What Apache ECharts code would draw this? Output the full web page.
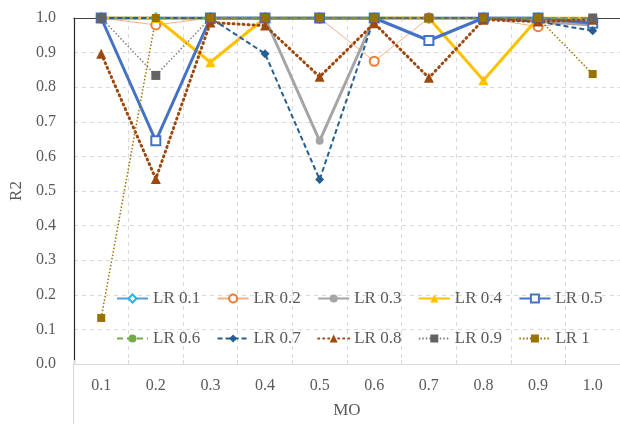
<!DOCTYPE html>
<html><head><meta charset="utf-8">
<script src="https://cdn.jsdelivr.net/npm/echarts@6/dist/echarts.min.js"></script>
<style>html,body{margin:0;padding:0;background:#fff}#c{width:620px;height:424px}</style>
</head><body><div id="c"></div>
<script>
const categories = ['0.1','0.2','0.3','0.4','0.5','0.6','0.7','0.8','0.9','1.0'];
const yTicks = [0,0.1,0.2,0.3,0.4,0.5,0.6,0.7,0.8,0.9,1.0];
const seriesNames = ['LR 0.1','LR 0.2','LR 0.3','LR 0.4','LR 0.5','LR 0.6','LR 0.7','LR 0.8','LR 0.9','LR 1'];
const lr01 = [1.0, 1.0, 1.0, 1.0, 1.0, 1.0, 1.0, 1.0, 1.0, 0.99];
const lr02 = [1.0, 0.98, 1.0, 1.0, 1.0, 0.875, 1.0, 1.0, 0.975, 0.995];
const lr03 = [1.0, 1.0, 1.0, 1.0, 0.645, 1.0, 1.0, 1.0, 0.99, 0.98];
const lr04 = [1.0, 1.0, 0.872, 1.0, 1.0, 1.0, 1.0, 0.82, 1.0, 1.0];
const lr05 = [1.0, 0.645, 1.0, 1.0, 1.0, 1.0, 0.935, 1.0, 1.0, 0.985];
const lr06 = [1.0, 1.0, 1.0, 1.0, 1.0, 1.0, 1.0, 1.0, 1.0, 1.0];
const lr07 = [1.0, 1.0, 1.0, 0.897, 0.533, 1.0, 1.0, 1.0, 0.99, 0.963];
const lr08 = [0.897, 0.535, 0.987, 0.978, 0.83, 0.985, 0.827, 0.995, 0.99, 0.995];
const lr09 = [1.0, 0.834, 1.0, 1.0, 1.0, 1.0, 1.0, 1.0, 1.0, 1.0];
const lr10 = [0.133, 1.0, 1.0, 1.0, 1.0, 1.0, 1.0, 1.0, 1.0, 0.838];

const font = 'Liberation Serif';
const styles = [
  {data: lr01, line:'#5B9BD5', mark:'#1FB5F0', w:3, type:'solid', sym:'emptyDiamond', size:9},
  {data: lr02, line:'#F4B183', mark:'#ED7D31', w:1, type:'solid', sym:'emptyCircle', size:9},
  {data: lr03, line:'#A5A5A5', mark:'#A5A5A5', w:3, type:'solid', sym:'circle', size:8},
  {data: lr04, line:'#FFC000', mark:'#FFC000', w:3, type:'solid', sym:'triangle', size:10},
  {data: lr05, line:'#4472C4', mark:'#4472C4', w:3, type:'solid', sym:'emptyRect', size:9},
  {data: lr06, line:'#70AD47', mark:'#70AD47', w:2.5, type:[6,4], sym:'circle', size:6},
  {data: lr07, line:'#255E91', mark:'#255E91', w:2, type:[5,3], sym:'diamond', size:9},
  {data: lr08, line:'#9E480E', mark:'#9E480E', w:3, type:[1,4], cap:'round', sym:'triangle', size:10},
  {data: lr09, line:'#7F7F7F', mark:'#636363', w:1.5, type:[1.5,2], sym:'rect', size:9},
  {data: lr10, line:'#997300', mark:'#997300', w:1.5, type:[1.5,2], sym:'rect', size:8}
];

const series = styles.map((s,i)=>({
  name: seriesNames[i], type:'line', data: s.data,
  symbol: s.sym, symbolSize: s.size, showAllSymbol:true,
  lineStyle:{color:s.line, width:s.w, type:s.type, cap: s.cap||'butt'},
  itemStyle:{color:s.mark, borderColor:s.mark, borderWidth: s.sym.startsWith('empty')?1.2:0},
  emphasis:{disabled:true}, animation:false
}));

const legendText = {fontFamily:font, fontSize:17, color:'#595959'};
const legends = seriesNames.map((n,i)=>({
  data:[n], left: 116 + (i%5)*100.6, top: i<5 ? 290 : 330,
  itemWidth:31, itemHeight:10, textStyle:legendText, selectedMode:false, padding:0
}));
const chart = echarts.init(document.getElementById('c'), null, {renderer:'canvas'});
chart.setOption({
  backgroundColor:'#fff',
  animation:false,
  grid:{left:73, right:-7, top:18, bottom:60},
  legend: legends,
  xAxis:[{
    type:'category', data: categories, boundaryGap:true,
    name:'MO', nameLocation:'middle', nameGap:38,
    nameTextStyle:{fontFamily:font, fontSize:17, color:'#595959'},
    axisLine:{lineStyle:{color:'#D9D9D9', width:1}},
    axisTick:{show:true, inside:true, length:4, lineStyle:{color:'#D9D9D9'}},
    axisLabel:{fontFamily:font, fontSize:16, color:'#595959', margin:14},
    splitLine:{show:true, lineStyle:{color:'#D9D9D9', type:[4,4]}}
  },{
    type:'category', data: categories, position:'top',
    axisLine:{lineStyle:{color:'#404040', width:1}},
    axisTick:{show:false}, axisLabel:{show:false}, splitLine:{show:false}
  }],
  yAxis:{
    type:'value', min:0, max:1, interval:0.1,
    name:'R2', nameLocation:'middle', nameGap:44,
    nameTextStyle:{fontFamily:font, fontSize:17, color:'#595959'},
    axisLine:{show:true, lineStyle:{color:'#262626', width:1.2}},
    axisTick:{show:false},
    axisLabel:{fontFamily:font, fontSize:16, color:'#595959', margin:18, formatter:v=>v.toFixed(1)},
    splitLine:{show:true, lineStyle:{color:'#D9D9D9', type:[4,4]}}
  },
  graphic:[{type:'line', shape:{x1:73.5, y1:364, x2:73.5, y2:424}, style:{stroke:'#D9D9D9', lineWidth:1}}],
  series: series
});
</script></body></html>
